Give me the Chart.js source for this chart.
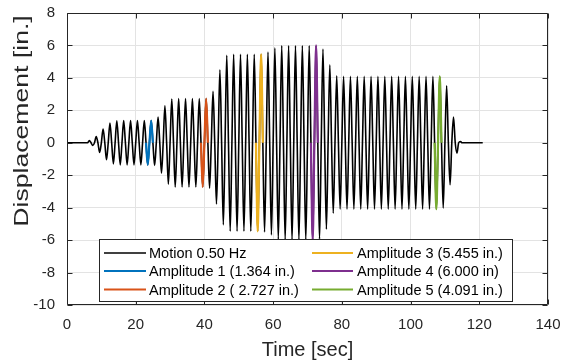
<!DOCTYPE html>
<html><head><meta charset="utf-8">
<script src="https://cdn.jsdelivr.net/npm/chart.js@4/dist/chart.umd.min.js"></script>
<style>html,body{margin:0;padding:0;background:#fff;}#wrap{width:563px;height:364px;}</style>
</head><body><div id="wrap"><canvas id="c" width="563" height="364"></canvas></div>
<script>
// ---- data ----
const motionLabel = 'Motion 0.50 Hz';
const frequencyHz = 0.5;
const restBefore = [0, 6];      // flat, zero displacement (sec)
const restAfter = [115, 121];
const firstExtremeTime = 6.5;   // sec
// signed half-cycle extremes (in.), one per half period starting at firstExtremeTime
const extremes = [
  0.14,-0.17,0.39,-0.60,0.85,-1.05,1.22,-1.30,1.36,
  -1.364,1.364,-1.364,1.364,-1.364,1.364,-1.364,1.364,-1.364,1.364,
  -1.40,1.58,-1.87,2.28,-2.55,2.70,
  -2.727,2.727,-2.727,2.727,-2.727,2.727,-2.727,2.727,-2.727,2.727,
  -2.80,3.17,-3.77,4.50,-5.06,5.40,
  -5.455,5.455,-5.455,5.455,-5.455,5.455,-5.455,5.455,-5.455,5.455,
  -5.50,5.60,-5.68,5.85,-5.95,6.00,
  -6.0,6.0,-6.0,6.0,-6.0,6.0,-6.0,6.0,-6.0,6.0,
  -5.94,5.78,-5.33,4.80,-4.34,4.13,
  -4.091,4.091,-4.091,4.091,-4.091,4.091,-4.091,4.091,-4.091,4.091,
  -4.091,4.091,-4.091,4.091,-4.091,4.091,-4.091,4.091,-4.091,4.091,
  -4.091,4.091,-4.091,4.091,-4.091,4.091,-4.091,4.091,-4.091,4.091,
  -4.03,3.52,-2.59,1.59,-0.64,0.08
];
const ampLabels = ['Amplitude 1 (1.364 in.)','Amplitude 2 ( 2.727 in.)','Amplitude 3 (5.455 in.)','Amplitude 4 (6.000 in)','Amplitude 5 (4.091 in.)'];
const ampColors = ['#0072BD','#D95319','#EDB120','#7E2F8E','#77AC30'];
const ampWindows = [[23,25],[39,41],[55,57],[71,73],[107,109]]; // sec
const xTicks = [0,20,40,60,80,100,120,140];
const yTicks = [-10,-8,-6,-4,-2,0,2,4,6,8];
const xTitle = 'Time [sec]';
const yTitle = 'Displacement [in.]';

// ---- build points ----
const halfPeriod = 1/(2*frequencyHz);
const motion = [{x:restBefore[0],y:0},{x:restBefore[1],y:0}];
extremes.forEach((v,i)=>{
  const t = firstExtremeTime + i*halfPeriod;
  motion.push({x:t,y:v});
  motion.push({x:t+halfPeriod/2,y:0});
});
motion.push({x:restAfter[1],y:0});
const ampData = ampWindows.map(w=>motion.filter(p=>p.x>=w[0]-1e-9 && p.x<=w[1]+1e-9));

const FONT = '"Liberation Sans", Arial, Helvetica, sans-serif';
const AX = '#262626';

const frameAndTicks = {
  id:'frameAndTicks',
  afterDatasetsDraw(chart){
    const {ctx, chartArea:a, scales:{x,y}} = chart;
    ctx.save();
    ctx.strokeStyle = AX; ctx.lineWidth = 1;
    const L=Math.round(a.left)+0.5, R=Math.round(a.right)-0.5, T=Math.round(a.top)+0.5, B=Math.round(a.bottom)-0.5;
    ctx.beginPath();
    ctx.rect(L,T,R-L,B-T);
    const tl=5;
    xTicks.forEach(v=>{const px=Math.round(x.getPixelForValue(v))+0.5; ctx.moveTo(px,B); ctx.lineTo(px,B-tl); ctx.moveTo(px,T); ctx.lineTo(px,T+tl);});
    yTicks.forEach(v=>{const py=Math.round(y.getPixelForValue(v))+0.5; ctx.moveTo(L,py); ctx.lineTo(L+tl,py); ctx.moveTo(R,py); ctx.lineTo(R-tl,py);});
    ctx.stroke();
    ctx.restore();
  }
};

const yTitlePlugin = {
  id:'yTitlePlugin',
  afterDraw(chart){
    const ctx = chart.ctx;
    ctx.save();
    ctx.translate(22.5,121);
    ctx.rotate(-Math.PI/2);
    ctx.scale(1.33,1);
    ctx.font = '20px '+FONT;
    ctx.fillStyle = AX; ctx.textAlign='center'; ctx.textBaseline='middle';
    ctx.fillText(yTitle,0,0);
    ctx.restore();
  }
};

const boxLegend = {
  id:'boxLegend',
  afterDraw(chart){
    const ctx = chart.ctx;
    const ds = chart.data.datasets;
    ctx.save();
    ctx.fillStyle='#fff'; ctx.strokeStyle=AX; ctx.lineWidth=1;
    ctx.fillRect(99.5,239.5,413,62);
    ctx.strokeRect(99.5,239.5,413,62);
    const cols=[{l0:104,l1:146,tx:149,items:[0,1,2]},{l0:312,l1:353,tx:357,items:[3,4,5]}];
    const rows=[253,271,289.5];
    ctx.font = '14.5px '+FONT;
    ctx.textBaseline='middle'; ctx.textAlign='left';
    cols.forEach(c=>{
      c.items.forEach((k,r)=>{
        const d=ds[k];
        ctx.strokeStyle=d.borderColor; ctx.lineWidth=k===0?1.3:2;
        ctx.beginPath(); ctx.moveTo(c.l0,rows[r]); ctx.lineTo(c.l1,rows[r]); ctx.stroke();
        ctx.fillStyle='#000';
        ctx.fillText(d.label,c.tx,rows[r]+1);
      });
    });
    ctx.restore();
  }
};

new Chart(document.getElementById('c'),{
  type:'line',
  data:{datasets:[
    {label:motionLabel,data:motion,borderColor:'#000',borderWidth:1.6,pointRadius:0,cubicInterpolationMode:'monotone',order:10},
    ...ampData.map((d,i)=>({label:ampLabels[i],data:d,borderColor:ampColors[i],borderWidth:2.2,pointRadius:0,cubicInterpolationMode:'monotone',order:1}))
  ]},
  options:{
    responsive:false, animation:false, devicePixelRatio:1,
    layout:{padding:{left:0,right:15,top:13,bottom:0}},
    plugins:{legend:{display:false},tooltip:{enabled:false}},
    scales:{
      x:{type:'linear',min:0,max:140,
        afterBuildTicks:s=>{s.ticks=xTicks.map(v=>({value:v}));},
        afterFit:s=>{s.height=59; s.paddingLeft=0; s.paddingRight=0;},
        grid:{color:'#e3e3e3',lineWidth:1,drawTicks:false},border:{display:false},
        ticks:{padding:11,color:AX,font:{family:FONT,size:15},maxRotation:0},
        title:{display:true,text:xTitle,color:AX,font:{family:FONT,size:20},padding:{top:0,bottom:2}}},
      y:{type:'linear',min:-10,max:8,
        afterBuildTicks:s=>{s.ticks=yTicks.map(v=>({value:v}));},
        afterFit:s=>{s.width=67; s.paddingTop=0; s.paddingBottom=0;},
        grid:{color:'#e3e3e3',lineWidth:1,drawTicks:false},border:{display:false},
        ticks:{padding:12,color:AX,font:{family:FONT,size:15}},
        title:{display:false,text:yTitle}}
    }
  },
  plugins:[frameAndTicks,boxLegend,yTitlePlugin]
});
</script></body></html>
